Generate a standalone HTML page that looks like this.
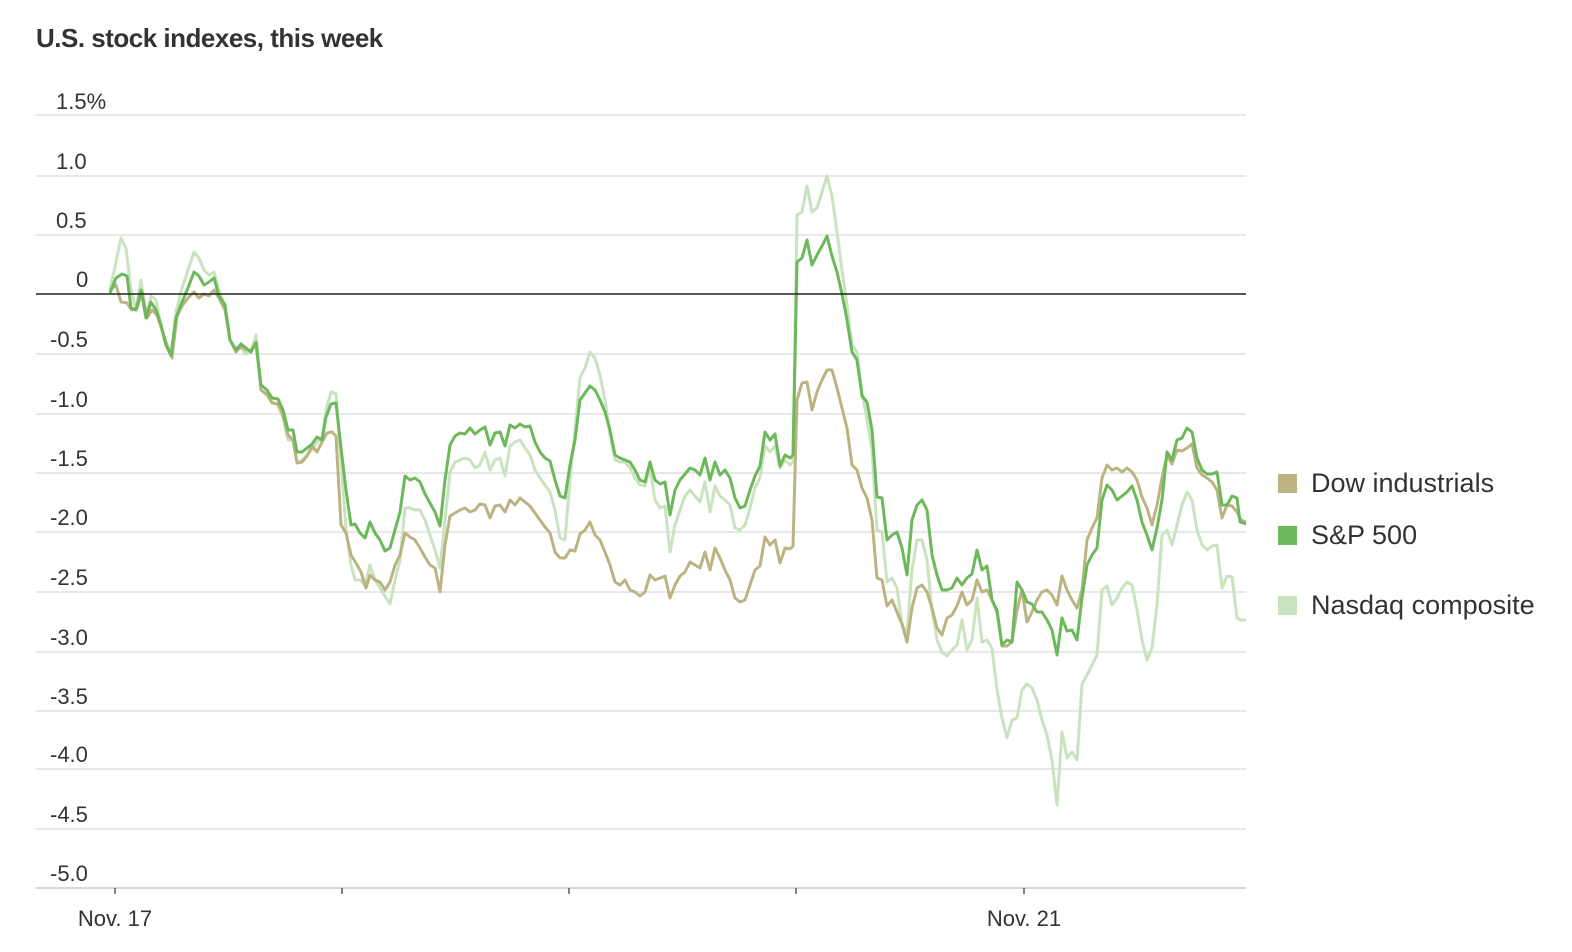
<!DOCTYPE html>
<html><head><meta charset="utf-8"><style>
body{margin:0;background:#fff;}
svg{display:block;font-family:"Liberation Sans",sans-serif;}
</style></head><body>
<svg width="1572" height="952" viewBox="0 0 1572 952" xmlns="http://www.w3.org/2000/svg">
<text x="36" y="47" font-size="26" font-weight="bold" fill="#333" letter-spacing="-0.5">U.S. stock indexes, this week</text>
<g stroke="#e0e0e0" stroke-width="1.5">
<line x1="36" x2="1246" y1="115" y2="115"/><line x1="36" x2="1246" y1="176" y2="176"/><line x1="36" x2="1246" y1="235" y2="235"/>
<line x1="36" x2="1246" y1="354" y2="354"/><line x1="36" x2="1246" y1="414" y2="414"/><line x1="36" x2="1246" y1="473" y2="473"/>
<line x1="36" x2="1246" y1="532" y2="532"/><line x1="36" x2="1246" y1="592" y2="592"/><line x1="36" x2="1246" y1="652" y2="652"/>
<line x1="36" x2="1246" y1="711" y2="711"/><line x1="36" x2="1246" y1="769" y2="769"/><line x1="36" x2="1246" y1="829" y2="829"/>
</g>
<line x1="36" x2="1246" y1="888" y2="888" stroke="#ccc" stroke-width="1.5"/>
<g stroke="#333" stroke-width="1.2"><line x1="115" x2="115" y1="888" y2="894"/><line x1="342" x2="342" y1="888" y2="894"/><line x1="569" x2="569" y1="888" y2="894"/><line x1="796" x2="796" y1="888" y2="894"/><line x1="1024" x2="1024" y1="888" y2="894"/></g>
<g font-size="22" fill="#333">
<text x="56" y="109">1.5%</text><text x="56" y="169">1.0</text><text x="56" y="228">0.5</text><text x="76" y="287">0</text>
<text x="50" y="347">-0.5</text><text x="50" y="407">-1.0</text><text x="50" y="466">-1.5</text><text x="50" y="525">-2.0</text>
<text x="50" y="585">-2.5</text><text x="50" y="645">-3.0</text><text x="50" y="704">-3.5</text><text x="50" y="762">-4.0</text>
<text x="50" y="822">-4.5</text><text x="50" y="881">-5.0</text>
<text x="115" y="926" text-anchor="middle">Nov. 17</text><text x="1024" y="926" text-anchor="middle">Nov. 21</text>
</g>
<g fill="none" stroke-width="3" stroke-linejoin="round">
<polyline stroke="#c9e3bf" points="110,290 116,262 121,238 126,248 131,290 136,310 141,280 146,316 151,296 156,300 161,326 166,346 171,356 176,312 182,288 188,270 194,252 199,258 204,270 209,275 214,272 219,290 225,306 230,340 236,350 241,348 246,354 251,352 256,335 261,390 267,394 272,402 278,405 283,418 288,440 293,440 297,462 302,460 307,455 312,450 317,442 322,438 326,410 331,392 336,394 341,460 346,530 351,565 355,580 360,580 365,585 370,565 375,580 380,588 385,596 390,604 395,580 400,560 405,508 410,508 415,510 420,510 425,520 430,535 435,550 440,568 445,520 450,472 455,462 460,460 465,458 470,460 475,468 480,465 485,452 490,470 495,460 500,458 505,476 510,446 515,442 520,440 525,448 530,455 535,470 540,478 545,485 550,492 555,510 560,538 565,540 570,480 575,430 580,378 585,368 590,352 595,358 600,375 605,400 610,435 615,460 620,462 625,462 630,468 635,478 640,485 645,486 650,468 655,500 660,508 665,506 670,552 675,525 680,510 685,496 690,490 695,496 700,502 705,482 710,512 715,486 720,496 725,500 730,505 735,528 740,530 745,525 750,508 755,488 760,478 765,446 770,452 775,446 780,468 785,460 790,465 793,462 797,215 802,212 807,186 812,212 817,208 822,192 827,176 832,196 837,232 842,270 847,305 852,345 857,352 862,392 867,420 872,450 877,530 882,532 887,582 892,578 897,588 902,625 907,632 912,570 917,540 922,540 927,560 932,610 937,640 942,652 947,656 952,650 957,645 962,620 967,650 972,640 977,598 982,642 987,640 992,648 997,690 1002,718 1007,738 1012,720 1017,718 1022,690 1027,684 1032,688 1037,700 1042,720 1047,735 1052,760 1057,805 1062,732 1067,758 1072,752 1077,760 1082,684 1087,675 1092,665 1097,655 1102,590 1107,586 1112,605 1117,598 1122,588 1127,582 1132,585 1137,610 1142,640 1147,660 1152,648 1157,605 1162,535 1167,530 1172,545 1177,525 1182,505 1187,492 1192,500 1197,530 1202,545 1207,550 1212,546 1217,545 1222,588 1227,576 1232,577 1237,618 1241,620 1246,620"/>
<polyline stroke="#bcb382" points="110,290 116,285 121,302 127,303 132,310 137,308 142,292 147,318 152,310 157,315 162,330 167,345 172,358 177,316 182,306 188,298 194,292 199,298 204,294 209,296 214,290 219,298 225,310 230,340 236,352 241,346 246,350 251,350 256,342 261,390 267,395 272,403 278,404 283,415 288,435 293,440 297,463 302,462 307,456 312,446 317,452 322,442 327,433 332,432 336,436 341,525 346,533 351,555 356,563 361,572 366,588 370,575 375,580 380,582 385,590 390,582 395,565 400,555 405,533 410,537 415,540 420,548 425,557 430,565 435,568 440,592 445,545 450,516 455,513 460,510 465,508 470,512 475,510 480,504 485,505 490,518 495,506 500,505 505,512 510,500 515,505 520,498 525,502 530,506 535,513 540,520 545,527 550,533 555,552 560,558 565,558 570,550 575,551 580,534 585,530 590,522 595,535 600,540 605,552 610,565 615,582 620,585 625,580 630,590 635,592 640,596 645,592 650,575 655,580 660,578 665,576 670,598 675,585 680,576 685,572 690,562 695,565 700,568 705,552 710,570 715,548 720,558 725,570 730,580 735,598 740,602 745,600 750,585 755,570 760,566 765,537 770,545 775,540 780,563 785,548 790,549 793,546 797,400 802,383 807,382 812,410 817,392 822,380 827,370 832,370 837,388 842,408 847,428 852,465 857,470 862,488 867,498 872,520 877,578 882,580 887,606 892,600 897,612 902,624 907,642 912,608 917,588 922,585 927,592 932,608 937,628 942,635 947,618 952,615 957,606 962,592 967,605 972,600 977,580 982,592 987,590 992,600 997,612 1002,646 1007,646 1012,642 1017,610 1022,590 1027,622 1032,612 1037,600 1042,592 1047,590 1052,595 1057,605 1062,576 1067,590 1072,600 1077,608 1082,590 1087,540 1092,528 1097,518 1102,478 1107,465 1112,470 1117,468 1122,472 1127,468 1132,472 1137,480 1142,497 1147,508 1152,525 1157,505 1162,478 1167,455 1172,464 1177,450 1182,451 1187,448 1192,444 1197,468 1202,475 1207,478 1212,482 1217,490 1222,518 1227,505 1232,506 1237,512 1241,520 1246,522"/>
<polyline stroke="#6cb85a" points="110,293 116,278 122,274 127,276 131,308 136,310 141,290 146,318 151,302 156,310 161,325 166,345 171,355 176,318 182,302 188,288 194,272 199,276 204,285 209,282 214,278 219,296 225,305 230,340 236,350 241,344 246,348 251,352 256,343 261,385 267,390 272,398 278,399 283,410 288,430 293,430 297,452 302,452 307,448 312,444 317,437 322,440 326,417 331,404 336,403 341,448 346,490 351,525 355,524 360,533 365,538 370,522 375,533 380,540 385,551 390,548 395,530 400,512 405,476 410,480 415,478 420,482 425,494 430,503 435,512 440,526 445,480 450,445 455,436 460,433 465,434 470,428 475,434 480,430 485,427 490,445 495,433 500,432 505,446 510,425 515,428 520,424 525,427 530,426 535,442 540,452 545,458 550,461 555,480 560,496 565,498 570,465 575,440 580,400 585,393 590,386 595,390 600,400 605,412 610,430 615,455 620,458 625,460 630,462 635,470 640,480 645,482 650,462 655,480 660,484 665,482 670,515 675,490 680,480 685,474 690,468 695,470 700,475 705,458 710,480 715,462 720,475 725,470 730,478 735,498 740,508 745,506 750,490 755,476 760,466 765,432 770,440 775,434 780,466 785,455 790,458 793,455 797,262 802,258 807,240 812,265 817,255 822,246 827,236 832,256 837,272 842,294 847,320 852,352 857,360 862,396 867,402 872,430 877,497 882,498 887,540 892,535 897,532 902,548 907,575 912,520 917,505 922,500 927,510 932,555 937,575 942,590 947,590 952,588 957,578 962,585 967,578 972,574 977,550 982,570 987,566 992,600 997,610 1002,645 1007,640 1012,642 1017,582 1022,590 1027,602 1032,604 1037,612 1042,612 1047,620 1052,630 1057,655 1062,618 1067,631 1072,630 1077,640 1082,598 1087,565 1092,555 1097,548 1102,500 1107,485 1112,490 1117,500 1122,496 1127,492 1132,486 1137,500 1142,522 1147,535 1152,550 1157,528 1162,500 1167,452 1172,460 1177,440 1182,438 1187,428 1192,432 1197,458 1202,470 1207,474 1212,474 1217,472 1222,505 1227,505 1232,496 1237,498 1240,522 1246,524"/>
</g>
<line x1="36" x2="1246" y1="294" y2="294" stroke="#222" stroke-width="1.5"/>
<rect x="1278" y="474" width="19" height="19" fill="#bcb382"/>
<rect x="1278" y="526" width="19" height="19" fill="#6cb85a"/>
<rect x="1278" y="596" width="19" height="19" fill="#c9e3bf"/>
<g font-size="27" fill="#333">
<text x="1311" y="492">Dow industrials</text>
<text x="1311" y="544">S&amp;P 500</text>
<text x="1311" y="614">Nasdaq composite</text>
</g>
</svg>
</body></html>
